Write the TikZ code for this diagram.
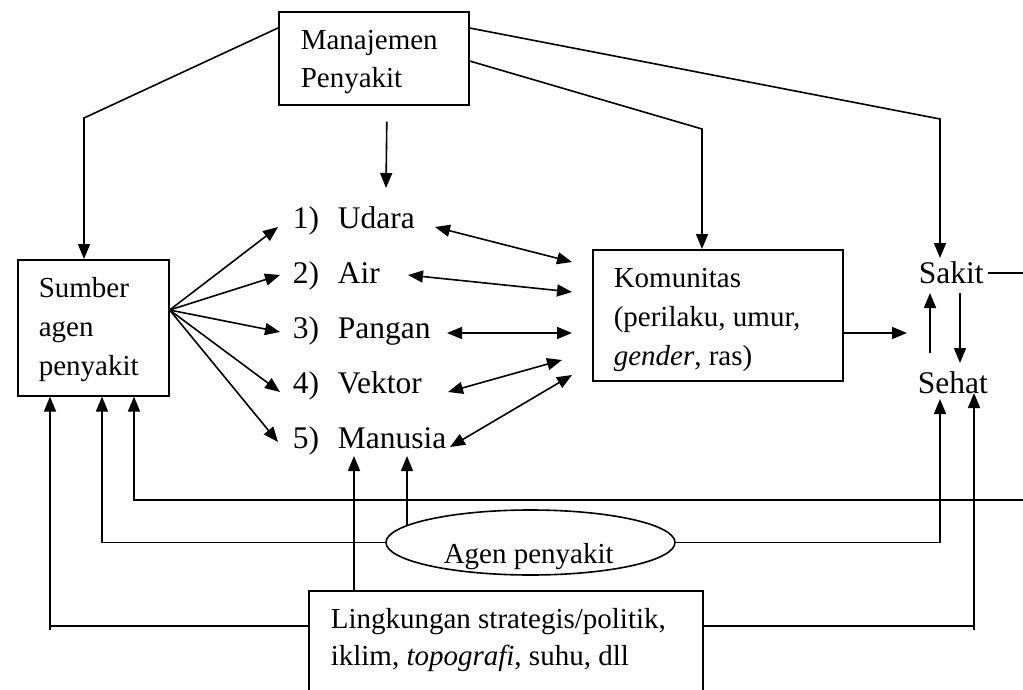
\documentclass[tikz,border=0pt]{standalone}
\usepackage{fontspec}
\setmainfont{Liberation Serif}
\usetikzlibrary{arrows.meta,shapes.geometric}
\begin{document}
\begin{tikzpicture}[x=1pt,y=-1pt,line width=1.6pt,
  >={Triangle[length=15pt,width=12pt]},
  box/.style={draw,rectangle,inner sep=0pt,anchor=north west},
  btxt/.style={inner sep=0pt,anchor=base west,align=left,font=\fontsize{29}{39}\selectfont},
  ltxt/.style={inner sep=0pt,anchor=base west,font=\fontsize{31.5}{38}\selectfont}]
\useasboundingbox (0,0) rectangle (1023,690);
% boxes and texts (multi-line texts placed by the baseline of their last line)
\node[box,minimum width=190pt,minimum height=93pt] (man) at (278,11) {};
\node[btxt,font=\fontsize{29}{38}\selectfont] (manT) at (300,88) {Manajemen\\Penyakit};
\node[box,minimum width=151pt,minimum height=136pt] (sumber) at (17,259) {};
\node[btxt] (sumberT) at (38,375) {Sumber\\agen\\penyakit};
\node[box,minimum width=250pt,minimum height=131pt] (kom) at (592,249) {};
\node[btxt] (komT) at (613,365) {Komunitas\\(perilaku, umur,\\\textit{gender}, ras)};
\node[box,minimum width=394pt,minimum height=140pt] (ling) at (308,590) {};
\node[btxt,font=\fontsize{29}{37}\selectfont] (lingT) at (330,665) {Lingkungan strategis/politik,\\iklim, \textit{topografi}, suhu, dll};
\node[draw,ellipse,inner sep=0pt,minimum width=289pt,minimum height=65pt] (agen) at (530.5,542.5) {};
\node[btxt] (agenT) at (443,563) {Agen penyakit};
% list
\node[ltxt] (i1) at (292,228) {\makebox[45pt][l]{1)}Udara};
\node[ltxt] (i2) at (292,283) {\makebox[45pt][l]{2)}Air};
\node[ltxt] (i3) at (292,338) {\makebox[45pt][l]{3)}Pangan};
\node[ltxt] (i4) at (292,393) {\makebox[45pt][l]{4)}Vektor};
\node[ltxt] (i5) at (292,448) {\makebox[45pt][l]{5)}Manusia};
\node[ltxt] (sakit) at (918,283) {Sakit};
\node[ltxt] (sehat) at (917,393) {Sehat};
% from Manajemen
\draw[->] (man.west |- 0,28) -- (84,118) -- (sumber.north -| 84,0);
\draw[->] ([shift={(13,16)}]man.south) -- ([shift={(94,-40)}]i1.base west);
\draw[->] (man.east |- 0,28) -- (940,119) -- ([shift={(22,-25)}]sakit.base west);
\draw[->] (man.east |- 0,61) -- (702,129) -- (kom.north -| 702,0);
% fan from Sumber
\draw[->] (sumber.east |- 0,310) -- ([shift={(-14,-1)}]i1.base west);
\draw[->] (sumber.east |- 0,310) -- ([shift={(-12,-8)}]i2.base west);
\draw[->] (sumber.east |- 0,310) -- ([shift={(-12,-6)}]i3.base west);
\draw[->] (sumber.east |- 0,310) -- ([shift={(-12,-1)}]i4.base west);
\draw[->] (sumber.east |- 0,310) -- ([shift={(-14,-6)}]i5.base west);
% double arrows to Komunitas
\draw[<->] ([shift={(143,-1)}]i1.base west) -- ([shift={(-20,13)}]kom.north west);
\draw[<->] ([shift={(116,-8)}]i2.base west) -- ([shift={(-20,43)}]kom.north west);
\draw[<->] ([shift={(155,-5)}]i3.base west) -- ([shift={(-20,84)}]kom.north west);
\draw[<->] ([shift={(156,-1)}]i4.base west) -- ([shift={(-30,111)}]kom.north west);
\draw[<->] ([shift={(158,-1)}]i5.base west) -- ([shift={(-20,126)}]kom.north west);
% Komunitas to health state
\draw[->] (kom.east |- 0,333) -- ([shift={(-11,50)}]sakit.base west);
\draw[->] ([shift={(13,-40)}]sehat.base west) -- ([shift={(12,10)}]sakit.base west);
\draw[->] ([shift={(42,10)}]sakit.base west) -- ([shift={(43,-30)}]sehat.base west);
% Sakit feedback to Sumber
\draw[->] ([shift={(70,-10)}]sakit.base west) -- (1040,273) -- (1040,500) -- (134,500) -- (sumber.south -| 134,0);
% Agen penyakit
\coordinate (m1) at ([shift={(62,8)}]i5.base west);
\coordinate (m2) at ([shift={(115,8)}]i5.base west);
\draw[->] (agen.west) -- (102,542.5) -- (sumber.south -| 102,0);
\draw[->] (agen.east) -- (940,542.5) -- ([shift={(23,6)}]sehat.base west);
\draw[->] (m2 |- agen.172) -- (m2);
% Lingkungan
\draw[->] (ling.north -| m1) -- (m1);
\draw[->] (ling.west |- 0,626) -- (50,626) (50,630) -- (sumber.south -| 50,0);
\draw[->] (ling.east |- 0,626) -- (974,626) (974,630) -- ([shift={(57,0)}]sehat.base west);
\end{tikzpicture}
\end{document}
